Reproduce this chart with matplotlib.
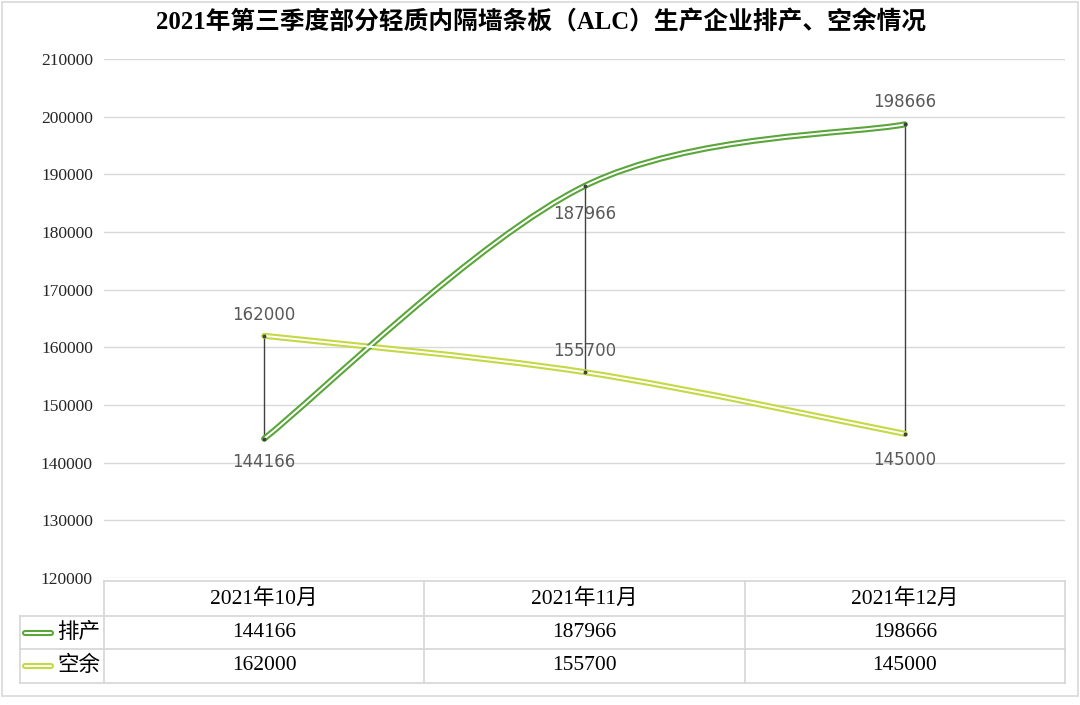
import matplotlib
matplotlib.use("Agg")
import matplotlib.pyplot as plt
from matplotlib.path import Path
from matplotlib.patches import PathPatch
from matplotlib.lines import Line2D
import numpy as np

categories = ["2021年10月", "2021年11月", "2021年12月"]
series_names = ["排产", "空余"]
paichan = [144166, 187966, 198666]
kongyu = [162000, 155700, 145000]
title = "2021年第三季度部分轻质内隔墙条板（ALC）生产企业排产、空余情况"
yticks = [120000, 130000, 140000, 150000, 160000, 170000, 180000, 190000, 200000, 210000]

c_pc = "#5aa63a"
c_ky = "#c4d944"
grid_c = "#d9d9d9"
lab_c = "#595959"
serif_cjk = ["Liberation Serif", "Noto Sans CJK SC"]

W, H = 1080, 705
fig = plt.figure(figsize=(W / 100, H / 100), dpi=100)
fig.patch.set_facecolor("white")

L, R, T, B = 104, 1065, 59, 578
ax = fig.add_axes([L / W, 1 - B / H, (R - L) / W, (B - T) / H])
ax.set_xlim(0, 3)
ax.set_ylim(120000, 210000)
ax.set_yticks(yticks)
ax.set_yticklabels([str(v) for v in yticks], fontfamily="Liberation Serif", fontsize=12.5, color="#262626")
ax.tick_params(axis="y", length=0, pad=8)
ax.set_xticks([])
for s in ax.spines.values():
    s.set_visible(False)
ax.grid(axis="y", color=grid_c, lw=1)
ax.set_axisbelow(True)

xs = np.arange(len(categories)) + 0.5


def smooth_path(x, y):
    pts = np.column_stack([x, y]).astype(float)
    n = len(pts)
    verts = [pts[0]]
    codes = [Path.MOVETO]
    for i in range(n - 1):
        p0 = pts[i - 1] if i > 0 else pts[i]
        p1 = pts[i]
        p2 = pts[i + 1]
        p3 = pts[i + 2] if i + 2 < n else pts[i + 1]
        c1 = p1 + (p2 - p0) / 6.0
        c2 = p2 - (p3 - p1) / 6.0
        verts += [c1, c2, p2]
        codes += [Path.CURVE4] * 3
    return Path(verts, codes)


# drop lines
for x, a, b in zip(xs, paichan, kongyu):
    ax.plot([x, x], [a, b], color="#404040", lw=1, zorder=2)
    ax.plot([x, x], [a, b], ls="none", marker="o", ms=1.8, color="#404040", zorder=5)

for data, col in [(kongyu, c_ky), (paichan, c_pc)]:
    p = smooth_path(xs, data)
    ax.add_patch(PathPatch(p, fill=False, edgecolor=col, lw=4.4, capstyle="round", zorder=3))
    ax.add_patch(PathPatch(p, fill=False, edgecolor="white", lw=1.4, capstyle="round", zorder=4))

# data labels
pc_off = [-17, -20, 16]
ky_off = [15, 15, -19]
for x, v, o in zip(xs, paichan, pc_off):
    ax.annotate(str(v), (x, v), xytext=(0, o), textcoords="offset points",
                ha="center", va="center", fontsize=12, color=lab_c, fontfamily="DejaVu Sans")
for x, v, o in zip(xs, kongyu, ky_off):
    ax.annotate(str(v), (x, v), xytext=(0, o), textcoords="offset points",
                ha="center", va="center", fontsize=12, color=lab_c, fontfamily="DejaVu Sans")

# overlay for table & frame
ov = fig.add_axes([0, 0, 1, 1], zorder=5)
ov.set_xlim(0, W)
ov.set_ylim(H, 0)
ov.axis("off")
ov.patch.set_alpha(0)

ov.add_patch(plt.Rectangle((2, 2), W - 4, 694, fill=False, edgecolor="#d9d9d9", lw=1.2))

ov.text(W / 2 + 1, 23, title, ha="center", va="center", fontsize=17.8, fontweight="bold",
        fontfamily=serif_cjk, color="black")

tc = "#d6d6d6"
col_edges = np.linspace(L, R, len(categories) + 1)
row_y = [581, 616, 649, 683]
ov.plot([L, R], [row_y[0], row_y[0]], color=tc, lw=1.2)
for y in row_y[1:]:
    ov.plot([20, R], [y, y], color=tc, lw=1.2)
for x in col_edges:
    ov.plot([x, x], [row_y[0], row_y[-1]], color=tc, lw=1.2)
ov.plot([20, 20], [row_y[1], row_y[-1]], color=tc, lw=1.2)

tfs = 15.5
for i, c in enumerate(categories):
    cx = (col_edges[i] + col_edges[i + 1]) / 2
    ov.text(cx, (row_y[0] + row_y[1]) / 2, c, ha="center", va="center", fontsize=tfs, fontfamily=serif_cjk)
    ov.text(cx, (row_y[1] + row_y[2]) / 2, str(paichan[i]), ha="center", va="center", fontsize=tfs, fontfamily=serif_cjk)
    ov.text(cx, (row_y[2] + row_y[3]) / 2, str(kongyu[i]), ha="center", va="center", fontsize=tfs, fontfamily=serif_cjk)

for r, (name, col) in enumerate(zip(series_names, [c_pc, c_ky])):
    yy = (row_y[r + 1] + row_y[r + 2]) / 2
    ov.add_line(Line2D([25, 51], [yy, yy], color=col, lw=4.4, solid_capstyle="round"))
    ov.add_line(Line2D([25, 51], [yy, yy], color="white", lw=1.4, solid_capstyle="round"))
    ov.text(57, yy, name, ha="left", va="center", fontsize=tfs, fontfamily=serif_cjk)

fig.savefig("out.png", dpi=100, facecolor="white")
